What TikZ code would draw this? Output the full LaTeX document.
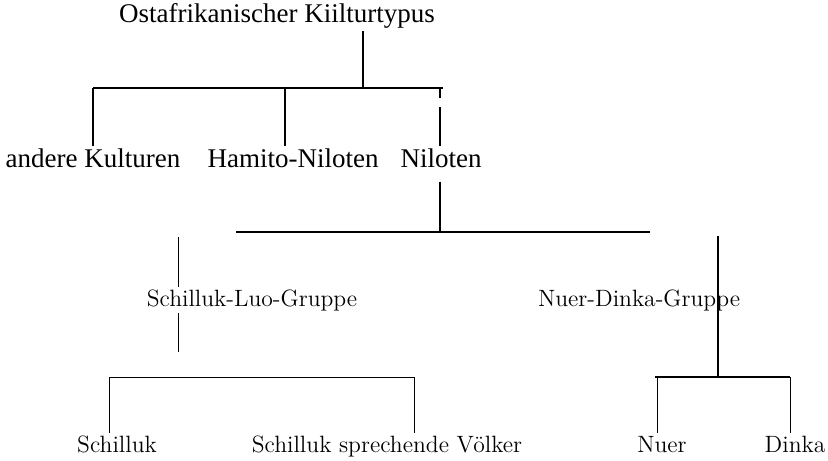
\documentclass[tikz,border=0pt]{standalone}
\usepackage{fontspec}
\newfontfamily\timesfont{Liberation Serif}
\usetikzlibrary{positioning}
\tikzstyle{upper} = [inner xsep=0pt, inner ysep=1pt, anchor=base,
font=\timesfont\fontsize{13.5}{13.5}\selectfont]
\tikzstyle{lower} = [inner xsep=0pt, inner ysep=1pt, anchor=base,
font=\fontsize{11.8}{11.8}\selectfont]
\tikzstyle{bar} = [line width=1pt]
\tikzstyle{twig} = [line width=0.7pt]
\tikzstyle{hair} = [line width=0.5pt]
\newcommand{\hang}[2][]{ %
  % Drop a line from each bar point to the label below it.
  \foreach \x/\y in {#2} { %
    \draw[#1] (\x) -- (\y.north -| \x) ;%
  } ;
}

\begin{document}
\begin{tikzpicture}[x=0.5pt,y=-0.5pt]
                \useasboundingbox (0,0) rectangle (828,460);

                % labels
                \node[upper] (ok) at (277,23) {Ostafrikanischer Kiilturtypus} ; %
                \node[upper] (ak) at (93,167) {andere Kulturen} ; %
                \node[upper] (hn) at (293,167) {Hamito-Niloten} ; %
                \node[upper] (nil) at (441,167) {Niloten} ; %
                \node[lower] (slg) at (252,306) {Schilluk-Luo-Gruppe} ; %
                \node[lower] (ndg) at (639,306) {Nuer-Dinka-Gruppe} ; %
                \node[lower] (sch) at (117,452) {Schilluk} ; %
                \node[lower] (spv) at (387,452) {Schilluk sprechende Völker} ; %
                \node[lower] (nuer) at (662,452) {Nuer} ; %
                \node[lower] (dinka) at (795,452) {Dinka} ; %

                % bar points
                \coordinate (b1l) at (93,88) ;
                \coordinate (b1m) at (363,88) ;
                \coordinate (b1r) at (443,88) ;
                \coordinate (b1h) at (285,88) ;
                \coordinate (b1n) at (440,88) ;
                \coordinate (b1g) at (440,98) ;
                \coordinate (b1k) at (440,107) ;
                \coordinate (b2l) at (236,232) ;
                \coordinate (b2m) at (440,232) ;
                \coordinate (b2r) at (650,232) ;
                \coordinate (slt) at (178,237) ;
                \coordinate (slb) at (178,352) ;
                \coordinate (ndt) at (718,236) ;
                \coordinate (b3l) at (109,377) ;
                \coordinate (b3r) at (414,377) ;
                \coordinate (b4l) at (657,377) ;
                \coordinate (b4m) at (718,377) ;
                \coordinate (b4r) at (790,377) ;

                % first level
                \draw[bar] (ok.south -| b1m) -- (b1m) ;
                \draw[bar] (b1l) -- (b1r) ;
                \hang[twig] {b1l/ak, b1h/hn, b1k/nil}
                \draw[twig] (b1n) -- (b1g) ;

                % second level
                \draw[bar, shorten <=6pt] (nil.south -| b2m) -- (b2m) ;
                \draw[twig] (b2l) -- (b2r) ;
                \draw[bar] (470,232) -- (530,232) ;
                \draw[bar] (600,232) -- (650,232) ;
                \draw[hair] (slt) -- (slg.north -| slt) ;
                \draw[hair] (slg.south -| slb) -- (slb) ;
                \draw[bar] (ndt) -- (b4m) ;

                % third level
                \draw[hair] (b3l) -- (b3r) ;
                \hang[hair] {b3l/sch, b3r/spv}
                \draw[bar] ([xshift=-1pt]b4l) -- (b4r) ;
                \hang[hair] {b4l/nuer, b4r/dinka}
\end{tikzpicture}
\end{document}
